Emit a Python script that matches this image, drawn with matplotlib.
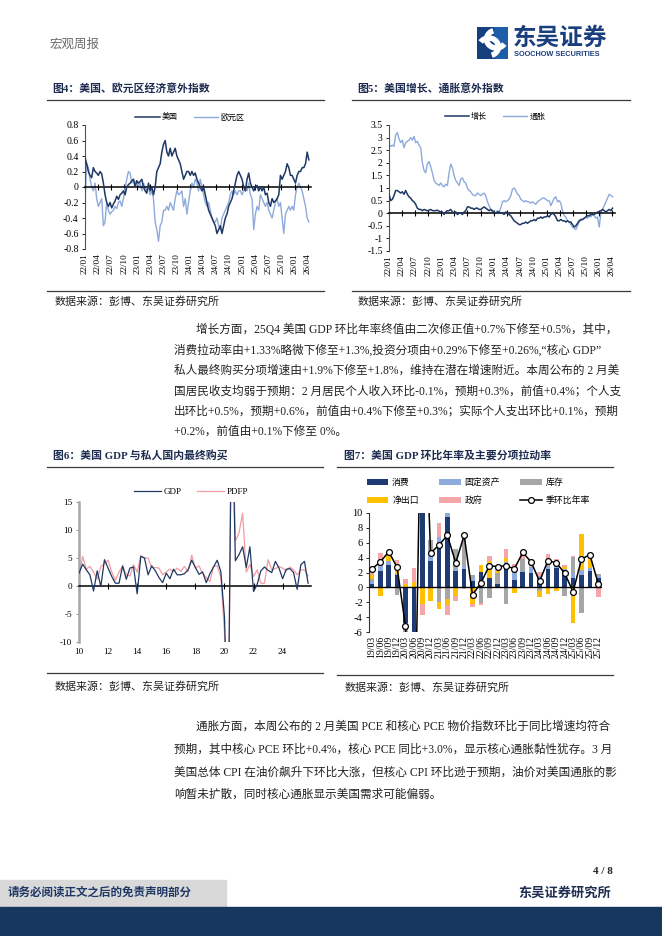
import numpy as np
import pandas as pd
import matplotlib
matplotlib.use('Agg')
import matplotlib.pyplot as plt
import matplotlib.dates as mdates
from matplotlib.patches import Rectangle, Patch, Arc
from matplotlib.lines import Line2D
from matplotlib.ticker import FuncFormatter

plt.rcParams['font.family'] = ['Liberation Serif', 'Noto Sans CJK SC']
plt.rcParams['axes.unicode_minus'] = False

# ---------------- data ----------------
# Fig 4: economic surprise indices (2022-01 .. 2026-04)
us_surprise = [0.38, 0.30, 0.20, 0.15, 0.12, 0.25, 0.20, 0.18, 0.15, 0.20, 0.17, 0.05, -0.10, -0.20, -0.25,
               -0.20, -0.27, -0.22, -0.18, -0.12, -0.16, -0.10, -0.08, -0.05, -0.10, 0.00, 0.03, 0.05, 0.08,
               0.10, 0.00, 0.08, 0.05, 0.07, 0.10, 0.00, -0.05, -0.08, 0.05, -0.05, 0.00, -0.10, 0.00, 0.20,
               0.25, 0.30, 0.45, 0.55, 0.60, 0.45, 0.40, 0.50, 0.40, 0.45, 0.50, 0.40, 0.35, 0.30, 0.20, 0.10,
               0.15, 0.20, 0.20, 0.15, 0.20, 0.15, 0.18, 0.10, 0.05, 0.00, -0.05, 0.00, -0.10, -0.20, -0.30,
               -0.35, -0.40, -0.45, -0.50, -0.60, -0.55, -0.50, -0.60, -0.50, -0.40, -0.35, -0.25, -0.20, -0.15,
               -0.05, 0.05, 0.15, 0.20, 0.15, 0.10, 0.00, -0.05, 0.10, 0.18, 0.05, 0.00, -0.05, 0.00, 0.02,
               -0.05, 0.00, -0.05, 0.00, -0.10, -0.08, -0.20, -0.25, -0.15, -0.20, -0.18, -0.15, -0.10, 0.15,
               0.10, 0.15, 0.20, 0.30, 0.25, 0.15, 0.15, 0.10, 0.05, 0.15, 0.20, 0.20, 0.25, 0.25, 0.30, 0.45, 0.35]
ez_surprise = [-0.20, 0.30, 0.25, 0.10, 0.00, -0.05, 0.05, -0.15, -0.25, -0.20, -0.15, -0.50, -0.45, -0.20, -0.30,
               -0.35, -0.32, -0.30, -0.25, -0.28, -0.20, -0.18, -0.25, -0.15, 0.00, 0.10, 0.20, 0.18, 0.05,
               0.10, 0.05, 0.08, 0.00, 0.05, -0.05, 0.05, 0.00, -0.05, 0.00, -0.10, -0.05, -0.15, -0.45, -0.55,
               -0.70, -0.50, -0.45, -0.30, -0.30, -0.25, -0.30, -0.20, -0.25, -0.30, -0.15, -0.05, -0.10, -0.08,
               -0.05, -0.25, -0.15, -0.35, -0.20, -0.05, 0.05, 0.00, 0.10, 0.05, -0.05, 0.10, 0.00, -0.10, -0.20,
               -0.25, -0.20, -0.30, -0.40, -0.45, -0.45, -0.40, -0.50, -0.55, -0.40, -0.35, -0.30, -0.25, -0.20,
               -0.10, -0.05, -0.10, -0.05, -0.10, -0.05, -0.05, -0.10, -0.05, 0.00, -0.05, 0.05, -0.10, -0.15,
               -0.55, -0.35, -0.25, -0.30, -0.10, -0.15, -0.20, -0.25, -0.20, -0.30, -0.35, -0.40, -0.30, -0.20,
               -0.15, -0.25, -0.20, -0.40, -0.60, -0.35, -0.30, -0.25, -0.30, -0.25, -0.30, -0.10, 0.00, 0.05,
               0.00, -0.05, -0.15, -0.25, -0.40, -0.45]
fig4_start, fig4_end = '2022-01-01', '2026-04-10'

# Fig 5: US growth / inflation surprise
growth_surprise = [0.75, 0.50, 0.55, 0.70, 0.90, 0.90, 0.85, 0.80, 0.85, 0.75, 0.90, 0.75, 0.65, 0.60, 0.50, 0.45,
                   0.35, 0.20, 0.15, 0.15, 0.10, 0.15, 0.12, 0.10, 0.12, 0.15, 0.10, 0.10, 0.10, 0.12, 0.08, 0.05,
                   0.05, -0.05, 0.05, 0.10, 0.10, 0.15, 0.05, 0.00, 0.05, -0.05, 0.00, 0.00, -0.05, 0.05, 0.10,
                   0.25, 0.25, 0.20, 0.20, 0.15, 0.20, 0.20, 0.15, 0.15, 0.20, 0.25, 0.20, 0.15, 0.10, 0.15, 0.10,
                   0.05, 0.00, 0.05, 0.05, 0.00, 0.00, -0.05, 0.05, 0.00, -0.05, -0.10, -0.20, -0.30, -0.35, -0.40,
                   -0.45, -0.45, -0.40, -0.40, -0.35, -0.40, -0.35, -0.30, -0.30, -0.25, -0.30, -0.20, -0.20, -0.15,
                   -0.20, -0.15, -0.15, -0.10, -0.15, -0.05, 0.00, -0.05, -0.15, -0.30, -0.30, -0.25, -0.30, -0.30,
                   -0.35, -0.30, -0.35, -0.35, -0.45, -0.55, -0.50, -0.40, -0.30, -0.25, -0.25, -0.20, -0.15, -0.10,
                   -0.10, -0.05, -0.05, -0.05, 0.00, 0.05, 0.05, 0.10, 0.15, 0.10, 0.05, 0.10, 0.15, 0.10, 0.20]
inflation_surprise = [2.70, 2.65, 2.70, 2.65, 3.10, 3.20, 2.95, 2.80, 2.90, 2.60, 2.80, 2.85, 2.90, 3.00, 2.90, 3.05,
                      2.80, 2.85, 2.70, 2.60, 2.00, 1.70, 1.60, 1.95, 2.05, 1.85, 1.60, 1.30, 1.20, 1.15, 1.10, 1.20,
                      1.10, 1.05, 1.15, 1.10, 1.60, 1.95, 1.80, 1.50, 1.30, 1.20, 1.10, 1.35, 1.40, 1.25, 1.20, 1.00,
                      0.90, 0.85, 0.75, 0.70, 0.70, 0.80, 0.75, 0.70, 0.75, 0.80, 0.70, 0.45, 0.30, 0.15, 0.05, 0.05,
                      0.00, 0.10, 0.05, 0.20, 0.45, 0.50, 0.45, 0.50, 0.55, 0.70, 0.95, 1.00, 0.90, 0.75, 0.70, 0.55,
                      0.50, 0.45, 0.50, 0.45, 0.45, 0.40, 0.45, 0.40, 0.35, 0.45, 0.50, 0.55, 0.60, 0.60, 0.55, 0.50,
                      0.50, 0.30, 0.45, 0.60, 0.65, 0.45, 0.50, 0.40, 0.10, -0.10, -0.15, -0.30, -0.35, -0.45, -0.55,
                      -0.60, -0.65, -0.50, -0.35, -0.30, -0.25, -0.20, -0.15, -0.20, -0.10, -0.15, -0.05, -0.10, -0.20,
                      -0.15, -0.55, 0.00, 0.15, 0.30, 0.45, 0.60, 0.75, 0.70, 0.65]
fig5_start, fig5_end = '2022-01-01', '2026-04-05'

date_tick_labels = ['22/01', '22/04', '22/07', '22/10', '23/01', '23/04', '23/07', '23/10', '24/01',
                    '24/04', '24/07', '24/10', '25/01', '25/04', '25/07', '25/10', '26/01', '26/04']

# Fig 6: GDP and PDFP, quarterly annualised (2010Q1 .. 2025Q4)
gdp_growth = [2.3, 3.9, 2.9, 2.0, -0.9, 2.7, -0.1, 4.7, 3.2, 1.7, 0.5, 0.5, 3.6, 1.2, 3.2, 3.4,
              -1.4, 5.3, 5.0, 2.0, 3.6, 2.7, 1.5, 0.6, 2.3, 1.3, 3.0, 2.0, 2.0, 2.2, 2.9, 4.6,
              3.3, 2.1, 2.5, 0.6, 2.2, 3.4, 4.6, 2.6, -5.5, -28.0, 35.0, 4.5, 5.6, 7.0, 3.3, 7.0,
              -1.0, 0.3, 2.7, 3.4, 2.8, 2.4, 4.4, 3.2, 1.3, 3.0, 3.1, 2.4, -0.6, 3.8, 4.4, 0.5]
pdfp_growth = [1.8, 5.3, 3.0, 3.5, 2.5, 1.2, 3.5, 4.0, 4.6, 2.5, 1.0, 2.5, 3.5, 2.0, 1.8, 3.8,
               2.5, 5.4, 5.0, 5.0, 3.3, 3.3, 3.2, 2.0, 2.5, 3.0, 2.6, 3.2, 2.6, 3.5, 2.6, 5.5,
               3.2, 3.6, 2.3, 1.5, 0.8, 3.5, 3.6, 1.6, -8.0, -35.0, 40.0, 8.0, 9.5, 13.0, 2.5, 3.8,
               1.7, 2.9, 0.5, 0.5, 4.7, 2.9, 3.1, 3.5, 3.2, 2.7, 3.4, 2.9, 2.0, 2.9, 2.9, 1.8]
fig6_first_year = 2010
fig6_year_ticks = [10, 12, 14, 16, 18, 20, 22, 24]

# Fig 7: GDP QoQ annualised and contributions
quarters = ['19/03', '19/06', '19/09', '19/12', '20/03', '20/06', '20/09', '20/12', '21/03', '21/06',
            '21/09', '21/12', '22/03', '22/06', '22/09', '22/12', '23/03', '23/06', '23/09', '23/12',
            '24/03', '24/06', '24/09', '24/12', '25/03', '25/06', '25/09', '25/12']
contrib_consumption = [0.5, 2.2, 3.0, 1.6, -4.8, -24.0, 25.0, 3.5, 5.4, 9.4, 2.2, 2.5, 0.8, 2.1, 1.2, 0.5,
                       2.9, 0.95, 2.05, 1.9, 1.0, 2.5, 2.6, 2.4, 1.2, 1.7, 2.2, 1.3]
contrib_fixed = [0.4, 1.0, 0.6, 0.2, -0.5, -5.5, 3.5, 1.2, 1.4, 1.3, 0.3, 0.4, 0.5, -0.2, -0.1, 0.0,
                 0.5, 1.3, 0.2, 0.8, 0.5, 0.4, 0.4, 0.1, 0.8, 0.6, 0.4, 0.2]
contrib_inventory = [0.2, 0.0, 0.0, -1.0, -1.0, -4.0, 6.5, 1.7, -1.9, -1.6, 2.6, 4.3, 0.4, -1.9, -1.3, 1.4,
                     -2.2, 0.0, 1.6, 0.0, -0.5, 0.8, 0.0, -1.1, 2.1, -3.4, 0.0, 0.3]
contrib_netexports = [0.6, -1.2, 0.7, 0.8, 0.5, 0.7, -2.3, -1.8, -1.0, -0.8, -1.1, -0.1, -2.2, 0.9, 2.4, 0.3,
                      0.6, -0.7, 0.0, 0.0, -0.8, -0.9, -0.5, 0.3, -4.8, 4.9, 1.6, 0.0]
contrib_government = [0.8, 1.4, 0.5, 1.1, 0.6, 1.9, -1.4, 0.0, 1.8, -1.3, -0.7, -0.1, -0.5, -0.3, 0.6, 0.6,
                      1.1, 0.9, 0.9, 0.7, 0.6, 0.8, 0.8, 0.2, 0.1, 0.0, 0.2, -1.3]
gdp_qoq_saar = [2.5, 3.4, 4.8, 2.7, -5.2, -28.0, 35.0, 4.6, 5.7, 7.0, 3.3, 7.0, -1.0, 0.6, 2.9, 2.8,
                2.9, 2.5, 4.7, 3.4, 0.8, 3.6, 3.3, 1.9, -0.6, 3.8, 4.4, 0.5]
component_names = ['消费', '固定资产', '库存', '净出口', '政府']

para1 = ["增长方面，25Q4 美国 GDP 环比年率终值由二次修正值+0.7%下修至+0.5%，其中，",
         "消费拉动率由+1.33%略微下修至+1.3%,投资分项由+0.29%下修至+0.26%,“核心 GDP”",
         "私人最终购买分项增速由+1.9%下修至+1.8%，维持在潜在增速附近。本周公布的 2 月美",
         "国居民收支均弱于预期：2 月居民个人收入环比-0.1%，预期+0.3%，前值+0.4%；个人支",
         "出环比+0.5%，预期+0.6%，前值由+0.4%下修至+0.3%；实际个人支出环比+0.1%，预期",
         "+0.2%，前值由+0.1%下修至 0%。"]
para2 = ["通胀方面，本周公布的 2 月美国 PCE 和核心 PCE 物价指数环比于同比增速均符合",
         "预期，其中核心 PCE 环比+0.4%，核心 PCE 同比+3.0%，显示核心通胀黏性犹存。3 月",
         "美国总体 CPI 在油价飙升下环比大涨，但核心 CPI 环比逊于预期，油价对美国通胀的影",
         "响暂未扩散，同时核心通胀显示美国需求可能偏弱。"]

# ---------------- styling ----------------
W, H = 662, 936
NAVY = '#1f3864'
LIGHT = '#8eaadb'
TITLE_C = '#1c2b4f'
FONTS = ['Liberation Serif', 'Noto Sans CJK SC']

fig = plt.figure(figsize=(W / 100, H / 100), dpi=100)


def box(l, t, r, b):
    return [l / W, 1 - b / H, (r - l) / W, (b - t) / H]


def ftext(x, y, s, **kw):
    kw.setdefault('va', 'center')
    kw.setdefault('family', FONTS)
    return fig.text(x / W, 1 - y / H, s, **kw)


def hrule(x0, x1, y, lw=0.9, color='#3a3a3a'):
    fig.add_artist(Line2D([x0 / W, x1 / W], [1 - y / H, 1 - y / H], lw=lw, color=color,
                          transform=fig.transFigure))


# header
ftext(50, 44, '宏观周报', fontsize=9, color='#6b6b6b', family=['Noto Sans CJK SC'])
logo = fig.add_axes(box(477, 27, 508, 59))
logo.set_xlim(0, 1); logo.set_ylim(0, 1); logo.axis('off')
logo.add_patch(Rectangle((0, 0), 1, 1, color='#1f5caa'))
logo.add_patch(Rectangle((0, 0), 0.5, 1, color='#163f7d'))
logo.add_patch(Arc((0.62, 0.62), 0.62, 0.55, theta1=110, theta2=330, lw=4, color='white'))
logo.add_patch(Arc((0.38, 0.38), 0.62, 0.55, theta1=290, theta2=150, lw=4, color='white'))
ftext(513, 38, '东吴证券', fontsize=17, color='#1a3f7f', family=['Noto Sans CJK SC'], weight='bold')
ftext(514, 55, 'SOOCHOW SECURITIES', fontsize=5.3, color='#1a3f7f', family=['Liberation Sans'], weight='bold')

# section titles and rules
ftext(52, 88, '图4：美国、欧元区经济意外指数', fontsize=7.8, weight='bold', color=TITLE_C)
ftext(357, 88, '图5：美国增长、通胀意外指数', fontsize=7.8, weight='bold', color=TITLE_C)
hrule(47, 324, 100); hrule(352, 630, 100)
hrule(47, 324, 291); hrule(352, 630, 291)
ftext(55, 301, '数据来源：彭博、东吴证券研究所', fontsize=7.9, color='#222222')
ftext(358, 301, '数据来源：彭博、东吴证券研究所', fontsize=7.9, color='#222222')

ftext(53, 455, '图6：美国 GDP 与私人国内最终购买', fontsize=7.8, weight='bold', color=TITLE_C)
ftext(344, 455, '图7：美国 GDP 环比年率及主要分项拉动率', fontsize=7.8, weight='bold', color=TITLE_C)
hrule(47, 323, 467); hrule(337, 613, 467)
hrule(47, 323, 673); hrule(337, 613, 675)
ftext(55, 686, '数据来源：彭博、东吴证券研究所', fontsize=7.9, color='#222222')
ftext(345, 687, '数据来源：彭博、东吴证券研究所', fontsize=7.9, color='#222222')

# paragraphs
for i, line in enumerate(para1):
    ftext(196 if i == 0 else 174, 330 + i * 20.4, line, fontsize=8.35, color='#222222')
for i, line in enumerate(para2):
    ftext(196 if i == 0 else 174, 727 + i * 22.6, line, fontsize=8.35, color='#222222')

# footer
ftext(613, 872, '4 / 8', fontsize=8, weight='bold', ha='right', color='#222222')
ftext(611, 893, '东吴证券研究所', fontsize=9.5, weight='bold', ha='right', color='#1f2d50')
fig.add_artist(Rectangle((0, 1 - 906 / H), 226 / W, 26 / H, color='#d9d9d9', transform=fig.transFigure))
fig.add_artist(Rectangle((0, 0), 1, 1 - 907 / H, color='#17375e', transform=fig.transFigure))
ftext(8, 893, '请务必阅读正文之后的免责声明部分', fontsize=8.3, weight='bold', color='#1f3864')


def tick_dates(labels):
    return [mdates.date2num(pd.to_datetime('20' + s, format='%Y/%m')) for s in labels]


def fmt_num(v, p):
    if abs(v) < 1e-9:
        return '0'
    return ('%.1f' % v).rstrip('0').rstrip('.') if abs(v - round(v)) > 1e-9 else '%d' % round(v)


def time_panel(rect, s1, s2, start, end, ylim, yticks, fmt, names, legend_x, xmax):
    ax = fig.add_axes(rect)
    d1 = mdates.date2num(pd.date_range(start, end, periods=len(s1)))
    d2 = mdates.date2num(pd.date_range(start, end, periods=len(s2)))
    ax.plot(d1, s1, color=NAVY, lw=1.1, label=names[0], zorder=3)
    ax.plot(d2, s2, color=LIGHT, lw=1.0, label=names[1], zorder=2)
    ax.set_ylim(*ylim)
    ax.set_xlim(mdates.date2num(pd.Timestamp(start)), mdates.date2num(pd.Timestamp(xmax)))
    ax.set_yticks(yticks)
    ax.yaxis.set_major_formatter(FuncFormatter(fmt))
    for sp in ('top', 'right'):
        ax.spines[sp].set_visible(False)
    ax.spines['left'].set_color('#555555'); ax.spines['left'].set_linewidth(0.8)
    ax.spines['bottom'].set_position(('data', 0))
    ax.spines['bottom'].set_color('black'); ax.spines['bottom'].set_linewidth(1.1)
    tpos = tick_dates(date_tick_labels)
    ax.set_xticks(tpos)
    ax.tick_params(axis='x', direction='inout', length=5, width=0.8, labelbottom=False)
    ax.tick_params(axis='y', direction='out', length=2.5, width=0.6, labelsize=7, pad=2)
    sec = ax.secondary_xaxis(0.0)
    sec.set_xticks(tpos, date_tick_labels)
    sec.tick_params(length=0, labelrotation=90, labelsize=6.6, pad=3)
    sec.spines['bottom'].set_visible(False)
    ax.legend(loc='center', bbox_to_anchor=(legend_x, 1.065), ncol=2, frameon=False,
              fontsize=5.8, handlelength=3.0, handletextpad=0.3, columnspacing=2.0,
              prop={'family': ['Noto Sans CJK SC'], 'size': 5.8})
    return ax


time_panel(box(85, 125, 311, 249), us_surprise, ez_surprise, fig4_start, fig4_end,
           (-0.8, 0.8), np.arange(-0.8, 0.81, 0.2), lambda v, p: '0' if abs(v) < 1e-9 else '%.1f' % v,
           ['美国', '欧元区'], 0.465, '2026-04-25')
time_panel(box(389, 125, 615, 251), growth_surprise, inflation_surprise, fig5_start, fig5_end,
           (-1.5, 3.5), np.arange(-1.5, 3.51, 0.5), fmt_num,
           ['增长', '通胀'], 0.47, '2026-04-22')

# ---------------- Fig 6 ----------------
ax6 = fig.add_axes(box(79, 502, 311, 642))
xq = [fig6_first_year - 2000 + i / 4 for i in range(len(gdp_growth))]
ax6.plot(xq, gdp_growth, color=NAVY, lw=0.9, label='GDP', zorder=3)
ax6.plot(xq, pdfp_growth, color='#f19ca2', lw=0.9, label='PDFP', zorder=2)
ax6.set_ylim(-10, 15)
ax6.set_xlim(10, 25.95)
ax6.set_yticks([-10, -5, 0, 5, 10, 15])
ax6.yaxis.set_major_formatter(FuncFormatter(lambda v, p: '%d' % v))
for sp in ('top', 'right'):
    ax6.spines[sp].set_visible(False)
ax6.spines['left'].set_color('#a6a6a6'); ax6.spines['left'].set_linewidth(1.8)
ax6.spines['bottom'].set_position(('data', 0))
ax6.spines['bottom'].set_color('black'); ax6.spines['bottom'].set_linewidth(1.1)
ax6.set_xticks(fig6_year_ticks)
ax6.tick_params(axis='x', direction='inout', length=5, width=0.8, labelbottom=False)
ax6.tick_params(axis='y', direction='out', length=2, width=0.6, color='#808080', labelsize=6.6, pad=3)
sec6 = ax6.secondary_xaxis(0.0)
sec6.set_xticks(fig6_year_ticks, [str(t) for t in fig6_year_ticks])
sec6.tick_params(length=0, labelsize=6.6, pad=4)
sec6.spines['bottom'].set_visible(False)
ax6.legend(loc='center', bbox_to_anchor=(0.483, 1.075), ncol=2, frameon=False, fontsize=6.6,
           handlelength=3.0, handletextpad=0.3, columnspacing=1.6)

# ---------------- Fig 7 ----------------
ax7 = fig.add_axes(box(369, 513, 602, 632))
comps = [contrib_consumption, contrib_fixed, contrib_inventory, contrib_netexports, contrib_government]
colors = ['#1f3b73', '#8faadc', '#a6a6a6', '#ffc000', '#f4a6a8']
x = np.arange(len(quarters))
pos_bottom = np.zeros(len(quarters))
neg_bottom = np.zeros(len(quarters))
handles = []
for vals, col, name in zip(comps, colors, component_names):
    v = np.array(vals, dtype=float)
    pos = np.where(v > 0, v, 0)
    neg = np.where(v < 0, v, 0)
    ax7.bar(x, pos, 0.55, bottom=pos_bottom, color=col, zorder=2)
    ax7.bar(x, neg, 0.55, bottom=neg_bottom, color=col, zorder=2)
    pos_bottom += pos
    neg_bottom += neg
    handles.append(Patch(facecolor=col, label=name))
ln, = ax7.plot(x, gdp_qoq_saar, color='black', lw=1.1, marker='o', ms=4.2, mfc='white', mec='black',
               mew=0.9, zorder=4, label='季环比年率')
ax7.axhline(0, color='black', lw=1.0, zorder=3)
ax7.set_ylim(-6, 10)
ax7.set_xlim(-0.35, len(quarters) - 0.55)
ax7.set_yticks(np.arange(-6, 11, 2))
ax7.set_xticks(x, quarters)
for sp in ('top', 'right', 'bottom'):
    ax7.spines[sp].set_visible(False)
ax7.spines['left'].set_color('#333333'); ax7.spines['left'].set_linewidth(0.8)
ax7.tick_params(axis='x', length=0, labelrotation=90, labelsize=7, pad=3)
ax7.tick_params(axis='y', direction='out', length=2.5, width=0.6, labelsize=7.5, pad=2)
order = [handles[0], handles[3], handles[1], handles[4], handles[2], ln]
ax7.legend(handles=order, loc='center', bbox_to_anchor=(0.47, 1.18), ncol=3, frameon=False,
           prop={'family': ['Noto Sans CJK SC'], 'size': 6.4}, handlelength=2.4, handleheight=0.75,
           handletextpad=0.45, columnspacing=2.3, labelspacing=1.0)

fig.savefig('out.png', dpi=100)
